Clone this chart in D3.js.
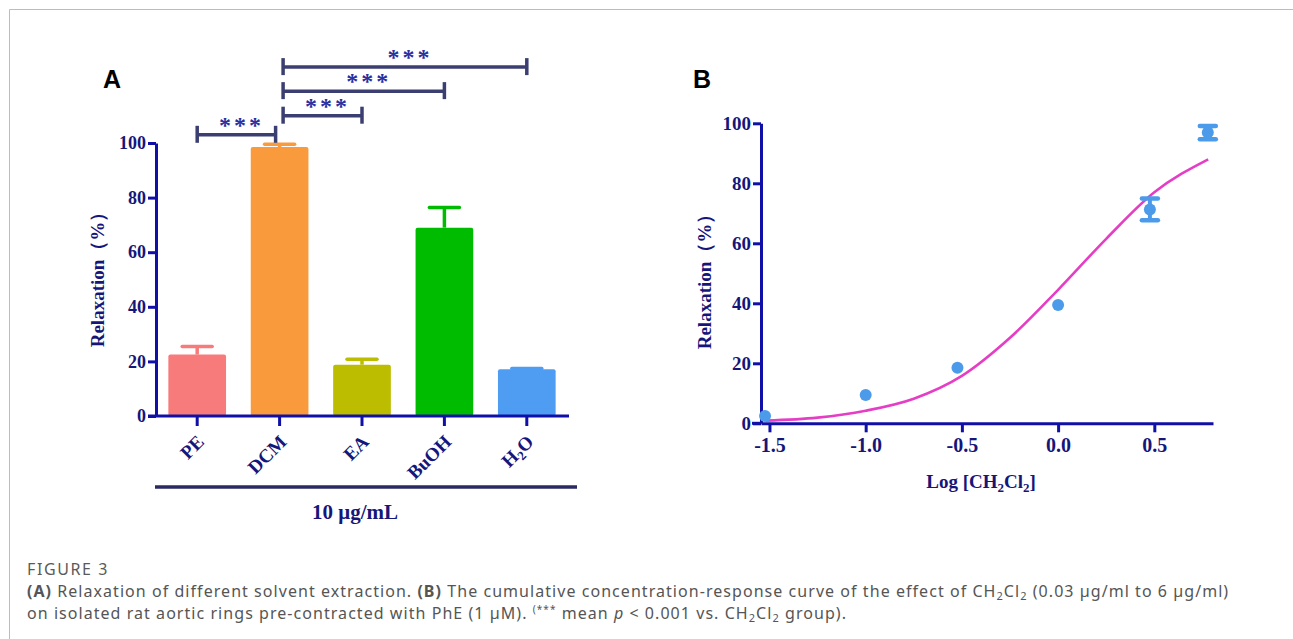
<!DOCTYPE html>
<html>
<head>
<meta charset="utf-8">
<script src="https://cdn.jsdelivr.net/npm/d3@7/dist/d3.min.js"></script>
<style>
  html, body { margin: 0; padding: 0; background: #fff; }
  svg { display: block; }
</style>
</head>
<body>
<svg id="chart" width="1293" height="639"></svg>
<script>
// ---------------- Data ----------------
// Panel A: relaxation by solvent extract at 10 µg/mL
const categories = ["PE", "DCM", "EA", "BuOH", "H2O"];
const barValues  = [22.5, 98.5, 18.8, 69.0, 17.1];
const barErrors  = [3.0, 1.0, 2.0, 7.4, 0.3];
const barColors  = ["#f87b7b", "#f99a3c", "#bcbc00", "#00bc00", "#4f9df3"];
const yTicksA    = [0, 20, 40, 60, 80, 100];
// significance comparisons (index pairs) and the level (in % units) of each bracket
const comparisons   = [[0, 1], [1, 2], [1, 3], [1, 4]];
const bracketLevels = [103, 110, 119, 127.8];
const sigLabels     = ["***", "***", "***", "***"];

// Panel B: cumulative concentration-response (log concentration)
const logConc     = [-1.523, -1.0, -0.523, 0.0, 0.477, 0.778];
const respValues  = [2.4, 9.4, 18.5, 39.4, 71.3, 96.9];
const respErrors  = [0, 0, 0, 0, 3.6, 2.2];
// fitted curve
const curveX = [-1.52, -1.25, -1.0, -0.75, -0.5, -0.25, 0.0, 0.25, 0.5, 0.78];
const curveY = [0.9, 1.9, 4.2, 8.2, 15.8, 28.5, 44.5, 61.5, 77.0, 88.0];
const xTicksB = [-1.5, -1.0, -0.5, 0.0, 0.5];
const yTicksB = [0, 20, 40, 60, 80, 100];

// ---------------- Styles ----------------
const axisColor  = "#1010a6";
const labelColor = "#16167a";
const bracketColor = "#3b3e70";
const serif = "'Liberation Serif', 'Times New Roman', serif";

const svg = d3.select("#chart");

// Frame lines (top and left)
svg.append("line").attr("x1", 9.5).attr("x2", 1293).attr("y1", 9.5).attr("y2", 9.5)
  .attr("stroke", "#bcbcbc").attr("stroke-width", 1);
svg.append("line").attr("x1", 9.5).attr("x2", 9.5).attr("y1", 9.5).attr("y2", 639)
  .attr("stroke", "#bcbcbc").attr("stroke-width", 1);

// ---------------- Panel A ----------------
const xA = d3.scaleBand().domain(categories).range([156, 568]).paddingInner(0.3).paddingOuter(0.15);
const yA = d3.scaleLinear().domain([0, 100]).range([416, 143]);

const gA = svg.append("g");

// bars
gA.selectAll("rect.bar").data(categories).join("rect")
  .attr("class", "bar")
  .attr("x", d => xA(d))
  .attr("width", xA.bandwidth())
  .attr("y", (d, i) => yA(barValues[i]))
  .attr("height", (d, i) => yA(0) - yA(barValues[i]))
  .attr("rx", 2)
  .attr("fill", (d, i) => barColors[i]);

// error bars (upper only)
categories.forEach((c, i) => {
  const cx = xA(c) + xA.bandwidth() / 2;
  const top = yA(barValues[i] + barErrors[i]);
  gA.append("line").attr("x1", cx).attr("x2", cx)
    .attr("y1", yA(barValues[i])).attr("y2", top)
    .attr("stroke", barColors[i]).attr("stroke-width", 3.5);
  gA.append("line").attr("x1", cx - 15).attr("x2", cx + 15)
    .attr("y1", top).attr("y2", top)
    .attr("stroke", barColors[i]).attr("stroke-width", 3.5).attr("stroke-linecap", "round");
});

// y axis
const yAxisA = gA.append("g").attr("transform", "translate(156,0)")
  .call(d3.axisLeft(yA).tickValues(yTicksA).tickSize(8).tickPadding(2).tickSizeOuter(0));
yAxisA.select(".domain").attr("stroke", axisColor).attr("stroke-width", 3);
yAxisA.selectAll(".tick line").attr("stroke", axisColor).attr("stroke-width", 3);
yAxisA.selectAll(".tick text").attr("fill", labelColor)
  .style("font-family", serif).style("font-weight", "bold").style("font-size", "18px");

// x axis line + ticks
gA.append("line").attr("x1", 148).attr("x2", 569).attr("y1", yA(0)).attr("y2", yA(0))
  .attr("stroke", axisColor).attr("stroke-width", 3);
categories.forEach(c => {
  const cx = xA(c) + xA.bandwidth() / 2;
  gA.append("line").attr("x1", cx).attr("x2", cx).attr("y1", yA(0)).attr("y2", yA(0) + 10)
    .attr("stroke", axisColor).attr("stroke-width", 3);
});

// rotated category labels
categories.forEach(c => {
  const cx = xA(c) + xA.bandwidth() / 2;
  const t = gA.append("text")
    .attr("transform", `translate(${cx + 8},${yA(0) + 27}) rotate(-45)`)
    .attr("text-anchor", "end")
    .attr("fill", labelColor)
    .style("font-family", serif).style("font-weight", "bold").style("font-size", "19px");
  if (c === "H2O") {
    t.append("tspan").text("H");
    t.append("tspan").text("2").style("font-size", "13px").attr("dy", 4);
    t.append("tspan").text("O").attr("dy", -4);
  } else {
    t.text(c);
  }
});

// group line and label
gA.append("line").attr("x1", 155).attr("x2", 577).attr("y1", 487).attr("y2", 487)
  .attr("stroke", "#2a2a62").attr("stroke-width", 3.5);
gA.append("text").attr("x", 355).attr("y", 519).attr("text-anchor", "middle")
  .attr("fill", labelColor)
  .style("font-family", serif).style("font-weight", "bold").style("font-size", "21px")
  .text("10 μg/mL");

// y-axis title
gA.append("text").attr("transform", "translate(104,275) rotate(-90)")
  .attr("text-anchor", "middle").attr("fill", labelColor)
  .style("font-family", serif).style("font-weight", "bold").style("font-size", "19px")
  .text("Relaxation（%）");

// significance brackets
comparisons.forEach((pair, k) => {
  const a = xA(categories[pair[0]]) + xA.bandwidth() / 2;
  const b = xA(categories[pair[1]]) + xA.bandwidth() / 2;
  // DCM is the shared endpoint; offset a little to separate the brackets
  const x1 = pair[0] === 1 ? a + 3.5 : a;
  const x2 = pair[1] === 1 ? b - 4 : b;
  const y = yA(bracketLevels[k]);
  gA.append("line").attr("x1", x1).attr("x2", x2).attr("y1", y).attr("y2", y)
    .attr("stroke", bracketColor).attr("stroke-width", 3.5);
  [x1, x2].forEach(xx => {
    gA.append("line").attr("x1", xx).attr("x2", xx).attr("y1", y - 9).attr("y2", y + 8)
      .attr("stroke", bracketColor).attr("stroke-width", 3.5);
  });
  gA.append("text").attr("x", (x1 + x2) / 2 + 5).attr("y", y - 2)
    .attr("text-anchor", "middle").attr("fill", "#2b2fa0")
    .style("font-family", serif).style("font-weight", "bold").style("font-size", "24px")
    .style("letter-spacing", "3px")
    .text(sigLabels[k]);
});

// panel letter
svg.append("text").attr("x", 103).attr("y", 88)
  .style("font-family", "'Liberation Sans', Arial, sans-serif").style("font-weight", "bold")
  .style("font-size", "25px").attr("fill", "#000").text("A");

// ---------------- Panel B ----------------
const xB = d3.scaleLinear().domain([-1.544, 0.805]).range([761, 1213]);
const yB = d3.scaleLinear().domain([0, 100]).range([423.3, 123.3]);
const gB = svg.append("g");

// axes
const xAxisB = gB.append("g").attr("transform", `translate(0,${yB(0)})`)
  .call(d3.axisBottom(xB).tickValues(xTicksB).tickFormat(d3.format(".1f")).tickSize(9).tickPadding(6).tickSizeOuter(0));
xAxisB.select(".domain").attr("stroke", axisColor).attr("stroke-width", 3);
xAxisB.selectAll(".tick line").attr("stroke", axisColor).attr("stroke-width", 3);
xAxisB.selectAll(".tick text").attr("fill", labelColor)
  .style("font-family", serif).style("font-weight", "bold").style("font-size", "20px")
  .text(d => d3.format(".1f")(d).replace("−", "-"));

const yAxisB = gB.append("g").attr("transform", `translate(761,0)`)
  .call(d3.axisLeft(yB).tickValues(yTicksB).tickSize(8).tickPadding(2).tickSizeOuter(0));
yAxisB.select(".domain").attr("stroke", axisColor).attr("stroke-width", 3);
yAxisB.selectAll(".tick line").attr("stroke", axisColor).attr("stroke-width", 3);
yAxisB.selectAll(".tick text").attr("fill", labelColor)
  .style("font-family", serif).style("font-weight", "bold").style("font-size", "19px");
// extend x axis slightly left as in reference
gB.append("line").attr("x1", 752).attr("x2", 761).attr("y1", yB(0)).attr("y2", yB(0))
  .attr("stroke", axisColor).attr("stroke-width", 3);

// fitted curve
const line = d3.line().x((d, i) => xB(curveX[i])).y((d, i) => yB(curveY[i])).curve(d3.curveMonotoneX);
gB.append("path").datum(curveX).attr("d", line)
  .attr("fill", "none").attr("stroke", "#e53ec5").attr("stroke-width", 2.6);

// error bars
const ptColor = "#4c9bea";
logConc.forEach((lx, i) => {
  if (respErrors[i] > 0) {
    const cx = xB(lx);
    const t = yB(respValues[i] + respErrors[i]);
    const b = yB(respValues[i] - respErrors[i]);
    gB.append("line").attr("x1", cx).attr("x2", cx).attr("y1", t).attr("y2", b)
      .attr("stroke", ptColor).attr("stroke-width", 4);
    [t, b].forEach(yy => {
      gB.append("line").attr("x1", cx - 8).attr("x2", cx + 8).attr("y1", yy).attr("y2", yy)
        .attr("stroke", ptColor).attr("stroke-width", 4.5).attr("stroke-linecap", "round");
    });
  }
});
// points
gB.selectAll("circle.pt").data(logConc).join("circle")
  .attr("class", "pt")
  .attr("cx", d => xB(d))
  .attr("cy", (d, i) => yB(respValues[i]))
  .attr("r", 6)
  .attr("fill", ptColor);

// axis titles
const xt = gB.append("text").attr("x", 981).attr("y", 488).attr("text-anchor", "middle")
  .attr("fill", labelColor)
  .style("font-family", serif).style("font-weight", "bold").style("font-size", "19px");
xt.append("tspan").text("Log [CH");
xt.append("tspan").text("2").style("font-size", "13px").attr("dy", 4);
xt.append("tspan").text("Cl").attr("dy", -4);
xt.append("tspan").text("2").style("font-size", "13px").attr("dy", 4);
xt.append("tspan").text("]").attr("dy", -4);

gB.append("text").attr("transform", "translate(711,277) rotate(-90)")
  .attr("text-anchor", "middle").attr("fill", labelColor)
  .style("font-family", serif).style("font-weight", "bold").style("font-size", "19px")
  .text("Relaxation（%）");

svg.append("text").attr("x", 693).attr("y", 88)
  .style("font-family", "'Liberation Sans', Arial, sans-serif").style("font-weight", "bold")
  .style("font-size", "25px").attr("fill", "#000").text("B");

// ---------------- Caption ----------------
const capFont = "'Noto Sans', 'Open Sans', sans-serif";
const capSize = "16px";
const capSpacing = "1.05px";
svg.append("text").attr("x", 27).attr("y", 575)
  .attr("fill", "#5a5a5a").style("font-family", capFont).style("font-size", "16px")
  .style("letter-spacing", "1.6px")
  .text("FIGURE 3");

const l1 = svg.append("text").attr("x", 27).attr("y", 597)
  .attr("fill", "#555").style("font-family", capFont).style("font-size", capSize)
  .style("letter-spacing", capSpacing);
l1.append("tspan").text("(A)").style("font-weight", "bold");
l1.append("tspan").text(" Relaxation of different solvent extraction. ");
l1.append("tspan").text("(B)").style("font-weight", "bold");
l1.append("tspan").text(" The cumulative concentration-response curve of the effect of CH");
l1.append("tspan").text("2").style("font-size", "11px").attr("dy", 3);
l1.append("tspan").text("Cl").attr("dy", -3);
l1.append("tspan").text("2").style("font-size", "11px").attr("dy", 3);
l1.append("tspan").text(" (0.03 µg/ml to 6 µg/ml)").attr("dy", -3);

const l2 = svg.append("text").attr("x", 27).attr("y", 619)
  .attr("fill", "#555").style("font-family", capFont).style("font-size", capSize)
  .style("letter-spacing", capSpacing);
l2.append("tspan").text("on isolated rat aortic rings pre-contracted with PhE (1 µM). ");
l2.append("tspan").text("(***").style("font-size", "10px").attr("dy", -6);
l2.append("tspan").text(" mean ").attr("dy", 6);
l2.append("tspan").text("p").style("font-style", "italic");
l2.append("tspan").text(" < 0.001 vs. CH");
l2.append("tspan").text("2").style("font-size", "11px").attr("dy", 3);
l2.append("tspan").text("Cl").attr("dy", -3);
l2.append("tspan").text("2").style("font-size", "11px").attr("dy", 3);
l2.append("tspan").text(" group).").attr("dy", -3);
</script>
</body>
</html>
